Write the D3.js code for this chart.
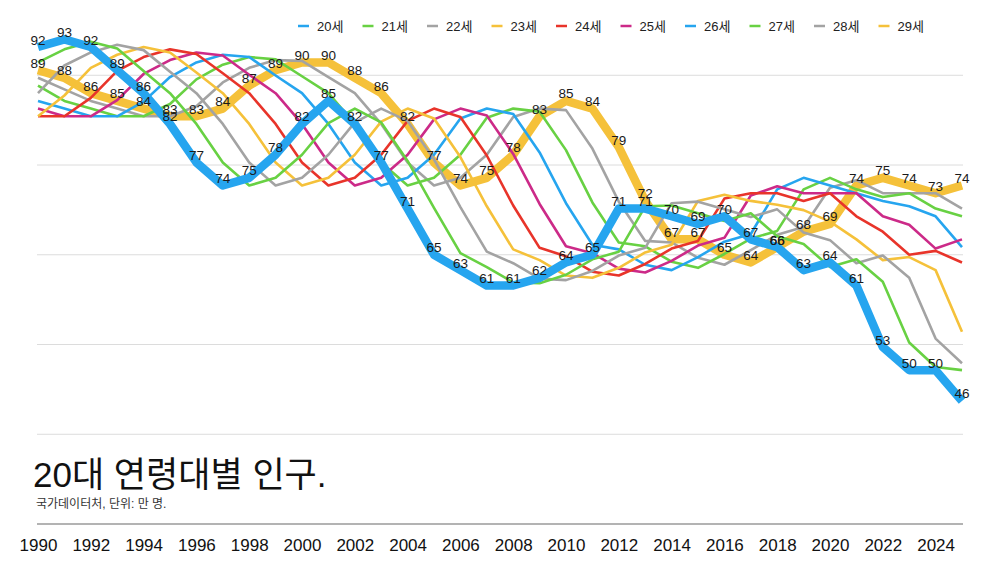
<!DOCTYPE html>
<html lang="ko">
<head>
<meta charset="utf-8">
<title>20대 연령대별 인구</title>
<script src="https://cdn.jsdelivr.net/npm/d3@7"></script>
<style>
  html, body { margin: 0; padding: 0; background: #fff; }
  svg { display: block; font-family: "Liberation Sans", "Noto Sans CJK KR", sans-serif; }
</style>
</head>
<body>
<svg id="chart"></svg>
<script>
// ---- data (만 명) ----
const years = [1990, 1991, 1992, 1993, 1994, 1995, 1996, 1997, 1998, 1999,
               2000, 2001, 2002, 2003, 2004, 2005, 2006, 2007, 2008, 2009,
               2010, 2011, 2012, 2013, 2014, 2015, 2016, 2017, 2018, 2019,
               2020, 2021, 2022, 2023, 2024, 2025];
const yearTicks = [1990, 1992, 1994, 1996, 1998, 2000, 2002, 2004, 2006,
                   2008, 2010, 2012, 2014, 2016, 2018, 2020, 2022, 2024];
const ages = ['20세', '21세', '22세', '23세', '24세', '25세', '26세', '27세', '28세', '29세'];

const pop20 = [92, 93, 92, 89, 86, 82, 77, 74, 75, 78,
               82, 85, 82, 77, 71, 65, 63, 61, 61, 62,
               64, 65, 71, 71, 70, 69, 70, 67, 66, 63,
               64, 61, 53, 50, 50, 46];
const pop21 = [90, 91.7, 92.7, 91.8, 88.9, 86, 82, 77, 74, 75,
               78, 82.1, 84, 82.2, 77.2, 71.1, 65.2, 63.4, 61.4, 61.3,
               62.4, 64.4, 65.4, 71.3, 71.4, 70.4, 69.4, 70.4, 67.4, 66.4,
               63.4, 64.4, 61.5, 53.6, 50.4, 50];
const pop22 = [86, 89.6, 91.3, 92.3, 91.6, 88.8, 86, 82, 77, 74,
               75, 78, 82.2, 84, 82.4, 77.4, 71.2, 65.4, 63.9, 61.9,
               61.7, 62.9, 64.9, 65.9, 71.7, 71.9, 70.9, 69.9, 70.9, 67.9,
               66.9, 63.9, 64.9, 62, 54.1, 50.9];
const pop23 = [83, 85.7, 89.3, 91, 92, 91.3, 88.7, 86, 82, 77,
               74, 75, 78, 82.3, 84, 82.7, 77.7, 71.3, 65.7, 64.3,
               62.3, 62, 63.3, 65.3, 66.3, 72, 72.8, 72, 71.5, 70.8,
               69.3, 67, 64.3, 64.7, 63, 55];
const pop24 = [83, 83, 85.4, 88.9, 90.7, 91.7, 91.1, 88.6, 86, 82,
               77, 74, 75, 78, 82.4, 84, 82.9, 77.9, 71.4, 65.9,
               64.8, 62.8, 62.3, 63.8, 65.8, 66.8, 72.3, 73, 73, 72,
               73, 70, 68, 65, 65.5, 64];
const pop25 = [84, 83, 83, 85.1, 88.5, 90.3, 91.3, 90.9, 88.4, 86,
               82, 77, 74, 75, 78, 82.6, 84, 83.1, 78.1, 71.6,
               66.1, 65.2, 63.2, 62.7, 64.2, 66.2, 67.2, 72.7, 73.9, 73,
               73, 73, 70, 68.9, 65.8, 67];
const pop26 = [85, 84, 83, 83, 84.9, 88.1, 90, 91, 90.7, 88.3,
               86, 82, 77, 74, 75, 78, 82.7, 84, 83.3, 78.3,
               71.7, 66.3, 65.7, 63.7, 63, 64.7, 66.7, 67.7, 73.5, 75,
               74, 73, 72, 71.3, 70, 66];
const pop27 = [87, 85, 84, 83, 83, 84.6, 87.8, 89.7, 90.7, 90.4,
               88.2, 86, 82, 77, 74, 75, 78, 82.8, 84, 83.6,
               78.6, 71.8, 66.6, 66.1, 64.1, 63.3, 65.1, 67.1, 68.1, 73.5,
               75, 73.5, 72.5, 73, 71, 70];
const pop28 = [88, 86.5, 85, 84, 83, 83, 84.3, 87.4, 89.3, 90.3,
               90.2, 88.1, 86, 82, 77, 74, 75, 78, 82.9, 84,
               83.8, 78.8, 71.9, 66.8, 66.6, 64.6, 63.7, 65.6, 67.6, 68.6,
               73.7, 74.7, 73, 73, 73, 71];
const pop29 = [89, 88, 86, 85, 84, 83, 83, 84, 87, 89,
               90, 90, 88, 86, 82, 77, 74, 75, 78, 83,
               85, 84, 79, 72, 67, 67, 65, 64, 66, 68,
               69, 74, 75, 74, 73, 74];

const seriesValues = [pop20, pop21, pop22, pop23, pop24, pop25, pop26, pop27, pop28, pop29];
const labelledAges = ['20세', '29세'];

// colours, one per age
const ageColors = ['#26a5ef', '#68d143', '#a3a3a3', '#f5c13a', '#e8342a',
                   '#cc2a88', '#26a5ef', '#68d143', '#a3a3a3', '#f5c13a'];


class AgeLineChart {

  constructor(_config) {
    this.config = {
      parentElement: _config.parentElement,
      containerWidth: 1000,
      containerHeight: 563,
      plot: {left: 38, right: 962, bottom: 524},
      yDomain: [30, 100],
      gridCount: 6
    };
    this.initVis();
  }

  initVis() {
    let vis = this;
    const c = vis.config;

    vis.svg = d3.select(c.parentElement)
        .attr('width', c.containerWidth)
        .attr('height', c.containerHeight);

    vis.x = d3.scaleLinear()
        .domain([years[0], years[years.length - 1]])
        .range([c.plot.left, c.plot.right]);

    // 7.69 px per 만 명, baseline (30) sits on the axis line
    vis.y = d3.scaleLinear()
        .domain(c.yDomain)
        .range([c.plot.bottom, c.plot.bottom - 89.75 * c.gridCount]);

    vis.gridG = vis.svg.append('g').attr('class', 'grid');
    vis.lineG = vis.svg.append('g').attr('class', 'lines');
    vis.labelG = vis.svg.append('g').attr('class', 'labels');
    vis.axisG = vis.svg.append('g')
        .attr('class', 'x-axis')
        .attr('transform', `translate(0,${c.plot.bottom})`);
    vis.legendG = vis.svg.append('g').attr('class', 'legend');

    // title + source
    vis.svg.append('text')
        .attr('x', 33)
        .attr('y', 487)
        .attr('font-size', 35)
        .attr('fill', '#111')
        .text('20대 연령대별 인구.');

    vis.svg.append('text')
        .attr('x', 36)
        .attr('y', 508)
        .attr('font-size', 12)
        .attr('fill', '#333')
        .text('국가데이터처, 단위: 만 명.');

    vis.updateVis();
  }

  updateVis() {
    let vis = this;
    const [y0, y1] = vis.config.yDomain;
    const step = (y1 - y0) / vis.config.gridCount;
    vis.gridValues = d3.range(1, vis.config.gridCount).map(i => y0 + i * step);

    vis.series = ages.map((age, i) => ({
      age: age,
      color: ageColors[i],
      thick: labelledAges.includes(age),
      values: seriesValues[i].map((v, j) => ({year: years[j], value: v}))
    }));

    vis.renderVis();
  }

  renderVis() {
    let vis = this;
    const c = vis.config;

    vis.gridG.selectAll('line')
      .data(vis.gridValues)
      .join('line')
        .attr('x1', c.plot.left - 1)
        .attr('x2', c.plot.right + 1)
        .attr('y1', d => vis.y(d))
        .attr('y2', d => vis.y(d))
        .attr('stroke', '#dcdcdc')
        .attr('stroke-width', 1);

    const line = d3.line()
        .x(d => vis.x(d.year))
        .y(d => vis.y(d.value));

    // older ages underneath, 20세 on top
    vis.lineG.selectAll('path')
      .data(vis.series.slice().reverse())
      .join('path')
        .attr('d', d => line(d.values))
        .attr('fill', 'none')
        .attr('stroke', d => d.color)
        .attr('stroke-width', d => d.thick ? 8.5 : 2.6)
        .attr('stroke-linejoin', 'round')
        .attr('stroke-linecap', 'butt');

    const labelled = vis.series.filter(d => d.thick).reverse();
    vis.labelG.selectAll('g')
      .data(labelled)
      .join('g')
      .selectAll('text')
      .data(d => d.values)
      .join('text')
        .attr('x', d => vis.x(d.year))
        .attr('y', d => vis.y(d.value) - 2.5)
        .attr('text-anchor', 'middle')
        .attr('font-size', 13.5)
        .attr('fill', '#1a1a1a')
        .text(d => d.value);

    const xAxis = d3.axisBottom(vis.x)
        .tickValues(yearTicks)
        .tickFormat(d3.format('d'))
        .tickSize(0)
        .tickPadding(15);

    vis.axisG.call(xAxis);
    vis.axisG.select('.domain')
        .attr('stroke', '#9a9a9a')
        .attr('stroke-width', 1.5)
        .attr('d', `M${c.plot.left - 1},0H${c.plot.right + 1}`);
    vis.axisG.selectAll('text')
        .attr('font-size', 17)
        .attr('font-family', '"Liberation Sans", "Noto Sans CJK KR", sans-serif')
        .attr('fill', '#111');

    const item = vis.legendG.selectAll('g')
      .data(vis.series)
      .join('g')
        .attr('transform', (d, i) => `translate(${298 + i * 64.5},26)`);

    item.append('line')
        .attr('x1', 0)
        .attr('x2', 11)
        .attr('stroke', d => d.color)
        .attr('stroke-width', 2.5);

    item.append('text')
        .attr('x', 19)
        .attr('y', 4.6)
        .attr('font-size', 13)
        .attr('fill', '#222')
        .text(d => d.age);
  }
}

new AgeLineChart({parentElement: '#chart'});
</script>
</body>
</html>
